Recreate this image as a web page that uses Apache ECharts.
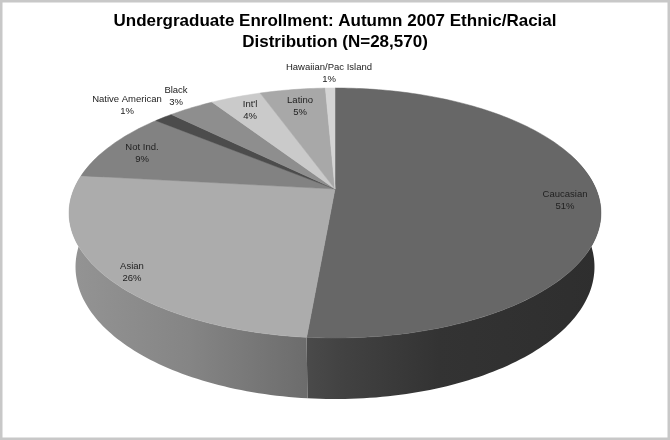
<!DOCTYPE html>
<html>
<head>
<meta charset="utf-8">
<style>
html, body { margin: 0; padding: 0; background: #fff; }
#chart { width: 670px; height: 440px; }
</style>
<script src="https://cdn.jsdelivr.net/npm/echarts@6/dist/echarts.min.js"></script>
</head>
<body>
<div id="chart"></div>
<script>
// values, clockwise from 12 o'clock
var categories = ['Caucasian', 'Asian', 'Not Ind.', 'Native American', 'Black', "Int'l", 'Latino', 'Hawaiian/Pac Island'];
var shares = [51.4, 25.4, 9.2, 1.4, 3.4, 3.7, 4.8, 0.7];
var shareLabels = ['51%', '26%', '9%', '1%', '3%', '4%', '5%', '1%'];

var topColors = ['#676767', '#acacac', '#828282', '#4c4c4c', '#8e8e8e', '#cacaca', '#a8a8a8', '#d4d4d4'];
var labelSpots = [[565, 200], [132, 272], [142, 153], [127, 105], [176, 96], [250, 110], [300, 106], [329, 73]];

// perspective of the tilted disc
var cam = { cx: 335, cy: 189, rx: 261, back: -84.1, tilt: 0.192, drop: 58.9, shrink: 0.024 };

var total = shares.reduce(function (a, b) { return a + b; }, 0);
var starts = [];
shares.reduce(function (sum, v, i) {
    starts[i] = sum / total * Math.PI * 2;
    return sum + v;
}, 0);

function project(angle, h) {
    var u = Math.sin(angle), v = Math.cos(angle);
    var w = 1 + cam.tilt * v + cam.shrink * h;
    return [cam.cx + cam.rx * u / w, (cam.cy + cam.back * v + cam.drop * h) / w];
}

function arc(a0, a1, h) {
    var n = Math.max(2, Math.ceil((a1 - a0) / 0.02)), pts = [];
    for (var i = 0; i <= n; i++) {
        pts.push(project(a0 + (a1 - a0) * i / n, h));
    }
    return pts;
}

function sliceEnd(i) {
    return i + 1 < shares.length ? starts[i + 1] : Math.PI * 2;
}

function renderSide(params, api) {
    var i = api.value(0);
    var a0 = Math.max(starts[i], Math.PI * 0.4), a1 = Math.min(sliceEnd(i), Math.PI * 1.6);
    if (a1 <= a0) {
        return null;
    }
    var stops = i === 0
        ? [{ offset: 0, color: '#4a4a4a' }, { offset: 0.12, color: '#424242' }, { offset: 0.45, color: '#333' }, { offset: 1, color: '#2e2e2e' }]
        : [{ offset: 0, color: '#949494' }, { offset: 0.5, color: '#858585' }, { offset: 1, color: '#6c6c6c' }];
    return {
        type: 'polygon',
        shape: { points: arc(a0, a1, 0).concat(arc(a0, a1, 1).reverse()) },
        style: { fill: new echarts.graphic.LinearGradient(0, 0, 1, 0, stops) }
    };
}

function renderTop(params, api) {
    var i = api.value(0);
    var pts = [[cam.cx, cam.cy]].concat(arc(starts[i], sliceEnd(i), 0));
    return {
        type: 'polygon',
        shape: { points: pts },
        style: { fill: topColors[i], stroke: topColors[i], lineWidth: 0.5 }
    };
}

function renderLabel(params, api) {
    var i = api.value(0);
    return {
        type: 'text',
        x: labelSpots[i][0],
        y: labelSpots[i][1],
        style: {
            text: categories[i] + '\n' + shareLabels[i],
            fill: '#222',
            font: '9.5px "Liberation Sans", Arial, sans-serif',
            lineHeight: 12,
            align: 'center',
            verticalAlign: 'middle'
        }
    };
}

var rows = categories.map(function (name, i) { return [i, shares[i]]; });
var chart = echarts.init(document.getElementById('chart'));

chart.setOption({
    animation: false,
    backgroundColor: '#fff',
    title: {
        text: 'Undergraduate Enrollment: Autumn 2007 Ethnic/Racial\nDistribution (N=28,570)',
        left: 335,
        top: 11,
        padding: 0,
        textAlign: 'center',
        textStyle: {
            color: '#000',
            fontFamily: '"Liberation Sans", Arial, sans-serif',
            fontWeight: 'bold',
            fontSize: 17,
            lineHeight: 21
        }
    },
    graphic: [{
        type: 'rect',
        silent: true,
        z: 100,
        shape: { x: 1, y: 1, width: 668, height: 438 },
        style: { fill: 'none', stroke: '#c8c8c8', lineWidth: 3 }
    }],
    series: [
        { type: 'custom', coordinateSystem: 'none', renderItem: renderSide, data: rows, z: 1 },
        { type: 'custom', coordinateSystem: 'none', renderItem: renderTop, data: rows, z: 2 },
        { type: 'custom', coordinateSystem: 'none', renderItem: renderLabel, data: rows, z: 3 }
    ]
});
</script>
</body>
</html>
